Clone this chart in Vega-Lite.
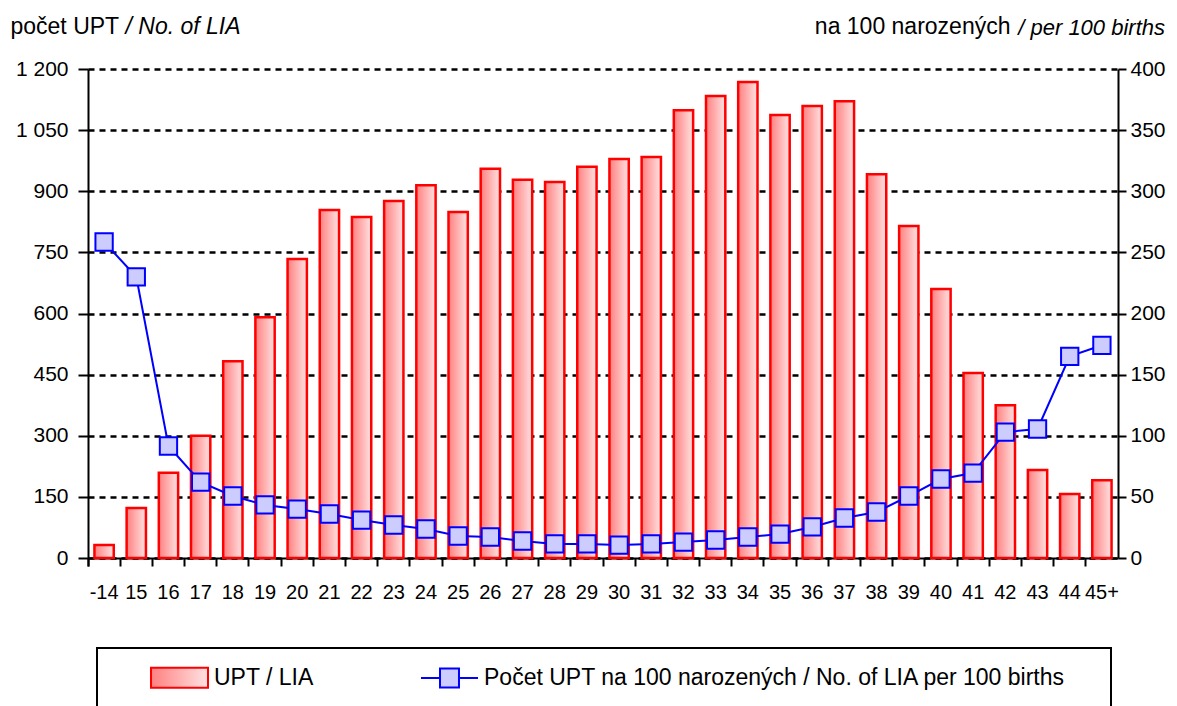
{
  "$schema": "https://vega.github.io/schema/vega-lite/v6.json",
  "width": 1030,
  "height": 489,
  "autosize": "none",
  "padding": {"left": 88, "top": 69, "right": 59, "bottom": 148},
  "background": "white",
  "title": {
    "text": "/ per 100 births",
    "anchor": "end",
    "frame": "group",
    "font": "Liberation Sans",
    "fontSize": 22,
    "fontStyle": "italic",
    "fontWeight": "normal",
    "color": "black",
    "baseline": "alphabetic",
    "dx": 47,
    "dy": 46
  },
  "data": {
    "values": [
      {"age": "-14", "upt": 32, "rate": 258.5},
      {"age": "15", "upt": 123, "rate": 230},
      {"age": "16", "upt": 209, "rate": 91.6},
      {"age": "17", "upt": 300, "rate": 62},
      {"age": "18", "upt": 483, "rate": 50.7},
      {"age": "19", "upt": 591, "rate": 43.4},
      {"age": "20", "upt": 734, "rate": 40},
      {"age": "21", "upt": 854, "rate": 36},
      {"age": "22", "upt": 837, "rate": 31},
      {"age": "23", "upt": 876, "rate": 27},
      {"age": "24", "upt": 915, "rate": 23.7},
      {"age": "25", "upt": 849, "rate": 18},
      {"age": "26", "upt": 955, "rate": 17.2},
      {"age": "27", "upt": 928, "rate": 13.9},
      {"age": "28", "upt": 923, "rate": 11.5},
      {"age": "29", "upt": 960, "rate": 11.5},
      {"age": "30", "upt": 979, "rate": 10.6},
      {"age": "31", "upt": 984, "rate": 11.5},
      {"age": "32", "upt": 1099, "rate": 13},
      {"age": "33", "upt": 1134, "rate": 14.7},
      {"age": "34", "upt": 1168, "rate": 17.2},
      {"age": "35", "upt": 1087, "rate": 19.6},
      {"age": "36", "upt": 1109, "rate": 25.4},
      {"age": "37", "upt": 1121, "rate": 32.7},
      {"age": "38", "upt": 942, "rate": 37.6},
      {"age": "39", "upt": 815, "rate": 50.7},
      {"age": "40", "upt": 660, "rate": 64.6},
      {"age": "41", "upt": 454, "rate": 69.5},
      {"age": "42", "upt": 375, "rate": 103},
      {"age": "43", "upt": 216, "rate": 105.5},
      {"age": "44", "upt": 157, "rate": 165},
      {"age": "45+", "upt": 191, "rate": 174}
    ]
  },
  "layer": [
    {
      "mark": {
        "type": "bar",
        "width": {"band": 0.6},
        "fill": {
          "gradient": "linear",
          "x1": 0, "y1": 0, "x2": 1, "y2": 0,
          "stops": [
            {"offset": 0, "color": "#ff8080"},
            {"offset": 1, "color": "#ffe2e2"}
          ]
        },
        "strokeWidth": 2.5
      },
      "encoding": {
        "x": {
          "field": "age",
          "type": "ordinal",
          "sort": null,
          "scale": {"paddingInner": 0, "paddingOuter": 0},
          "axis": {
            "title": "/ No. of LIA",
            "titleFontStyle": "italic",
            "titleFontSize": 23,
            "titleFontWeight": "normal",
            "titleAngle": 0,
            "titleAlign": "left",
            "titleBaseline": "alphabetic",
            "titleX": 37,
            "titleY": -525,
            "labelAngle": 0,
            "labelFontSize": 20,
            "labelPadding": 16,
            "labelOverlap": false,
            "bandPosition": 0,
            "tickExtra": true,
            "tickSize": 8,
            "tickWidth": 2,
            "tickColor": "black",
            "domainColor": "black",
            "domainWidth": 2,
            "grid": false
          }
        },
        "y": {
          "field": "upt",
          "type": "quantitative",
          "scale": {"domain": [0, 1200], "nice": false},
          "axis": {
            "orient": "left",
            "title": "počet UPT",
            "titleFontSize": 23,
            "titleFontWeight": "normal",
            "titleAngle": 0,
            "titleAlign": "left",
            "titleBaseline": "alphabetic",
            "titleX": -78,
            "titleY": -36,
            "values": [0, 150, 300, 450, 600, 750, 900, 1050, 1200],
            "labelExpr": "replace(format(datum.value, ','), ',', ' ')",
            "labelFontSize": 21,
            "labelPadding": 10,
            "tickSize": 10,
            "tickWidth": 2,
            "tickColor": "black",
            "domainColor": "black",
            "domainWidth": 2,
            "grid": true,
            "gridColor": "black",
            "gridWidth": 2.5,
            "gridDash": [6, 5]
          }
        },
        "stroke": {
          "datum": "UPT / LIA",
          "type": "nominal",
          "scale": {
            "domain": ["UPT / LIA", "Počet UPT na 100 narozených / No. of LIA per 100 births"],
            "range": ["#ff0000", "#0000ff"]
          },
          "legend": {
            "title": " ",
            "titleOrient": "right",
            "titleAnchor": "start",
            "titleBaseline": "top",
            "titlePadding": 45,
            "titleFontSize": 64,
            "orient": "none",
            "legendX": 9,
            "legendY": 579,
            "direction": "horizontal",
            "encoding": {
              "symbols": {
                "shape": {"value": {"expr": "datum.value === 'UPT / LIA' ? 'M-1,-0.351H1V0.351H-1Z' : 'M-1,0H-0.333M0.333,0H1M-0.333,-0.333H0.333V0.333H-0.333Z'"}},
                "fill": {"value": {"expr": "datum.value === 'UPT / LIA' ? {gradient: 'linear', stops: [{offset: 0, color: '#ff8080'}, {offset: 1, color: '#ffe2e2'}]} : '#ccccff'"}},
                "opacity": {"value": 1}
              }
            }
          }
        }
      }
    },
    {
      "layer": [
        {
          "mark": {"type": "line", "strokeWidth": 2},
          "encoding": {
            "x": {"field": "age", "type": "ordinal", "sort": null},
            "y": {
              "field": "rate",
              "type": "quantitative",
              "scale": {"domain": [0, 400], "nice": false},
              "axis": {
                "orient": "right",
                "title": "na  100 narozených",
                "titleFontSize": 23,
                "titleFontWeight": "normal",
                "titleAngle": 0,
                "titleAlign": "right",
                "titleBaseline": "alphabetic",
                "titleX": -108,
                "titleY": -36,
                "values": [0, 50, 100, 150, 200, 250, 300, 350, 400],
                "labelFontSize": 21,
                "labelPadding": 4,
                "tickSize": 8,
                "tickWidth": 2,
                "tickColor": "black",
                "domainColor": "black",
                "domainWidth": 2,
                "grid": false
              }
            },
            "stroke": {
              "datum": "Počet UPT na 100 narozených / No. of LIA per 100 births",
              "type": "nominal"
            }
          }
        },
        {
          "mark": {"type": "point", "shape": "square", "filled": true, "fill": "#ccccff", "stroke": "#0000ff", "strokeWidth": 2, "size": 300, "opacity": 1},
          "encoding": {
            "x": {"field": "age", "type": "ordinal", "sort": null},
            "y": {"field": "rate", "type": "quantitative"}
          }
        }
      ]
    }
  ],
  "resolve": {"scale": {"y": "independent"}},
  "config": {
    "view": {"stroke": null},
    "font": "Liberation Sans",
    "axis": {"labelColor": "black", "titleColor": "black", "labelFont": "Liberation Sans", "titleFont": "Liberation Sans"},
    "legend": {
      "strokeColor": "black",
      "strokeWidth": 2,
      "padding": 0,
      "symbolOffset": 53,
      "symbolSize": 3249,
      "symbolStrokeWidth": 2,
      "labelFont": "Liberation Sans",
      "labelFontSize": 23,
      "labelColor": "black",
      "labelOffset": 5,
      "labelLimit": 0,
      "columnPadding": 53,
      "titleFont": "Liberation Sans"
    }
  }
}
